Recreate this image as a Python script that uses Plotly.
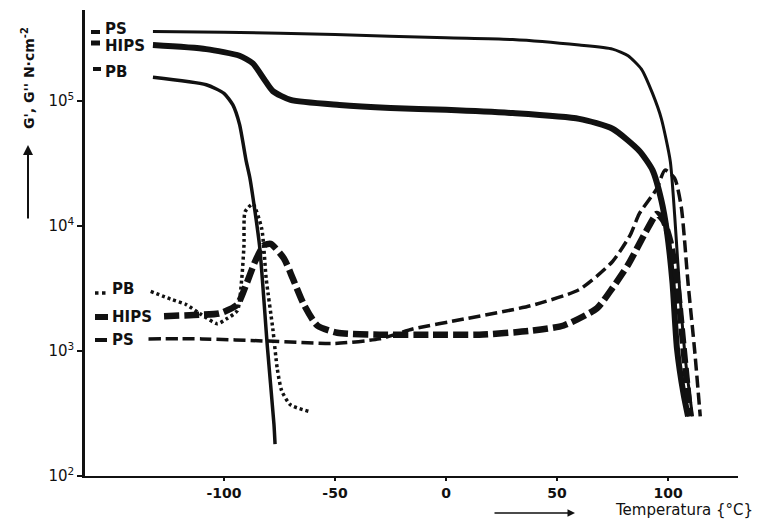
import plotly.graph_objects as go

# ---- data (temperature in °C, moduli in N·cm^-2) ----
ps_gp_T = [-132, -100, -50, 0, 30, 60, 75, 82, 88, 93, 97, 101, 103, 105.5, 108, 111]
ps_gp = [3.6e5, 3.55e5, 3.4e5, 3.2e5, 3.1e5, 2.8e5, 2.6e5, 2.3e5, 1.8e5, 1.15e5, 7.2e4, 3.3e4, 1.2e4, 2.6e3, 8e2, 3e2]

hips_gp_T = [-132, -108, -93, -87, -82, -78, -70, -48, -25, 0, 30, 60, 75, 87, 93, 97, 99.5, 102, 104, 107, 109]
hips_gp = [2.8e5, 2.6e5, 2.3e5, 2.0e5, 1.5e5, 1.2e5, 1.02e5, 9.3e4, 8.8e4, 8.5e4, 8.0e4, 7.2e4, 6.0e4, 4.0e4, 2.8e4, 1.6e4, 9e3, 3.5e3, 1.05e3, 4.5e2, 3e2]

pb_gp_T = [-132, -108, -100, -96, -93, -90, -88.3, -84, -80.5, -77.5, -77]
pb_gp = [1.55e5, 1.35e5, 1.15e5, 9.3e4, 6.5e4, 3.3e4, 2.4e4, 7e3, 1.1e3, 2.6e2, 1.8e2]

pb_gpp_T = [-133, -124, -117, -111, -103, -99, -94, -92, -91, -90.5, -87, -83, -81, -78, -76, -74, -70, -62]
pb_gpp = [3.0e3, 2.6e3, 2.35e3, 2.0e3, 1.65e3, 1.8e3, 2.1e3, 3.8e3, 7e3, 1.3e4, 1.5e4, 9.5e3, 3.8e3, 1.5e3, 7.2e2, 4.8e2, 3.7e2, 3.3e2]

hips_gpp_T = [-127, -111, -102, -94, -90, -86, -82, -79, -73, -69, -64, -58, -49, -30, -7, 15, 38, 53, 68, 75, 82, 90, 95, 98, 101, 104, 107, 110]
hips_gpp = [1.9e3, 1.95e3, 2.0e3, 2.35e3, 3.4e3, 5.2e3, 7.0e3, 7.2e3, 5.5e3, 3.8e3, 2.35e3, 1.6e3, 1.4e3, 1.35e3, 1.35e3, 1.35e3, 1.45e3, 1.6e3, 2.2e3, 3.2e3, 4.9e3, 9e3, 1.25e4, 1.1e4, 7.5e3, 3.6e3, 1.05e3, 3e2]

ps_gpp_T = [-134, -110, -80, -50, -30, -15, 8, 38, 60, 75, 83, 87, 95, 98.6, 103, 106, 109, 112, 114.5]
ps_gpp = [1.25e3, 1.25e3, 1.2e3, 1.15e3, 1.25e3, 1.5e3, 1.8e3, 2.3e3, 3.1e3, 5.2e3, 8.5e3, 1.25e4, 2.0e4, 2.8e4, 2.4e4, 1.4e4, 3.5e3, 1.0e3, 3e2]

x_ticks = [-100, -50, 0, 50, 100]
x_tick_labels = ["-100", "-50", "0", "50", "100"]
y_ticks = [1e2, 1e3, 1e4, 1e5]
y_tick_labels = ["10<sup>2</sup>", "10<sup>3</sup>", "10<sup>4</sup>", "10<sup>5</sup>"]

FONT = "DejaVu Sans"
INK = "#111111"

fig = go.Figure()

def add(T, G, width, dash, name):
    fig.add_trace(go.Scatter(x=T, y=G, mode="lines", name=name,
                             line=dict(color=INK, width=width, dash=dash,
                                       shape="spline", smoothing=0.6),
                             showlegend=False))

add(ps_gp_T, ps_gp, 3, "solid", "PS G'")
add(hips_gp_T, hips_gp, 6, "solid", "HIPS G'")
add(pb_gp_T, pb_gp, 3.5, "solid", "PB G'")
add(ps_gpp_T, ps_gpp, 3.5, "12px,5px", "PS G''")
add(hips_gpp_T, hips_gpp, 6.5, "15px,5px", "HIPS G''")
add(pb_gpp_T, pb_gpp, 3.5, "3px,3px", "PB G''")

# page has an 8px body margin: figure is placed at (8, 8)
OFF = 8
FW, FH = 766 - OFF, 524 - OFF
# plot area in page pixels: x 85..738, y 10..476
L, R, T_, B = 85 - OFF, 766 - 738, 10 - OFF, 524 - 476
W = FW - L - R
H = FH - T_ - B
def px(x):
    return (x - OFF - L) / W
def py(y):
    return (FH - B - (y - OFF)) / H

# legend-like labels inside the plot
labels = [("PS", 103, 29), ("HIPS", 103, 46), ("PB", 103, 72),
          ("PB", 110, 289), ("HIPS", 110, 317), ("PS", 110, 340)]
for txt, x, y in labels:
    fig.add_annotation(text=txt, xref="paper", yref="paper", x=px(x), y=py(y),
                       xanchor="left", yanchor="middle", showarrow=False,
                       font=dict(family=FONT, size=15, color=INK, weight="bold"))

swatches = [(91, 100, 32, 4, "solid"), (91, 100, 43, 5, "solid"), (93, 101, 69, 4, "solid"),
            (95, 106, 293, 3.5, "dot"), (95, 108, 317, 6, "solid"), (95, 107, 340, 4, "solid")]
for x0, x1, y, w, d in swatches:
    fig.add_shape(type="line", xref="paper", yref="paper", x0=px(x0), x1=px(x1),
                  y0=py(y), y1=py(y), line=dict(color=INK, width=w, dash=d))

# axis titles with arrows
fig.add_annotation(text="G', G'' N·cm<sup>-2</sup>", xref="paper", yref="paper",
                   x=px(28), y=py(78), textangle=-90, showarrow=False,
                   xanchor="center", yanchor="middle",
                   font=dict(family=FONT, size=14, color=INK, weight="bold"))
fig.add_annotation(text="", xref="paper", yref="paper", x=px(28), y=py(145),
                   ax=0, ay=75, showarrow=True, arrowhead=2, arrowsize=1,
                   arrowwidth=2, arrowcolor=INK)
fig.add_annotation(text="Temperatura {°C}", xref="paper", yref="paper",
                   x=px(613), y=py(510), xanchor="left", yanchor="middle",
                   showarrow=False, font=dict(family=FONT, size=15, color=INK))
fig.add_annotation(text="", xref="paper", yref="paper", x=px(575), y=py(513),
                   ax=-82, ay=0, showarrow=True, arrowhead=2, arrowsize=1,
                   arrowwidth=1.5, arrowcolor=INK)

fig.update_xaxes(range=[-162.6, 131.5], tickvals=x_ticks, ticktext=x_tick_labels,
                 showgrid=False, zeroline=False, showline=True, linecolor=INK,
                 linewidth=2, ticks="outside", ticklen=3, tickwidth=2, tickcolor=INK,
                 tickfont=dict(family=FONT, size=14, color=INK, weight="bold"))
fig.update_yaxes(type="log", range=[2, 5.728], tickvals=y_ticks, ticktext=y_tick_labels,
                 showgrid=False, zeroline=False, showline=True, linecolor=INK,
                 linewidth=2.5, ticks="outside", ticklen=5, tickwidth=2, tickcolor=INK,
                 tickfont=dict(family=FONT, size=15, color=INK))

fig.update_layout(width=FW, height=FH, margin=dict(l=L, r=R, t=T_, b=B),
                  paper_bgcolor="white", plot_bgcolor="white", showlegend=False)

fig.write_html("out.html")
